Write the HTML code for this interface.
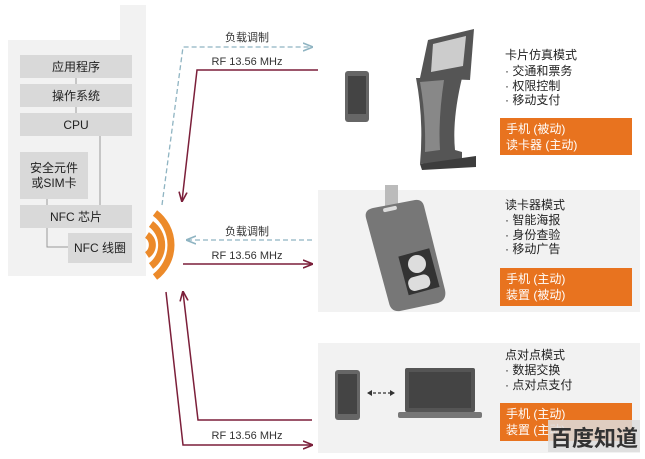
<!DOCTYPE html>
<html><head><meta charset="utf-8"><style>
body{margin:0;background:#fff;width:645px;height:454px;overflow:hidden;font-family:"Liberation Sans","Noto Sans CJK SC",sans-serif}
</style></head><body>
<svg width="645" height="454" xmlns="http://www.w3.org/2000/svg" font-family="Liberation Sans, Noto Sans CJK SC, sans-serif">
<defs>
<marker id="ar" markerWidth="10" markerHeight="10" refX="9" refY="5" orient="auto" markerUnits="userSpaceOnUse"><path d="M0,1 L10,5 L0,9" fill="none" stroke="#7b1f3a" stroke-width="1.6"/></marker>
<marker id="at" markerWidth="10" markerHeight="10" refX="9" refY="5" orient="auto" markerUnits="userSpaceOnUse"><path d="M0,1 L10,5 L0,9" fill="none" stroke="#8fb4c2" stroke-width="1.6"/></marker>
</defs>
<rect x="8" y="40" width="138" height="236" fill="#f2f2f2"/>
<rect x="120" y="5" width="26" height="40" fill="#f2f2f2"/>
<g fill="#d9d9d9">
<rect x="20" y="55" width="112" height="23"/>
<rect x="20" y="84" width="112" height="23"/>
<rect x="20" y="113" width="112" height="23"/>
<rect x="20" y="152" width="68" height="47"/>
<rect x="20" y="205" width="112" height="23"/>
<rect x="68" y="233" width="64" height="30"/>
</g>
<g stroke="#999" stroke-width="1" fill="none">
<path d="M76 78V84M76 107V113M100 136V205M47 199V205M47 228V247H68"/>
</g>
<g font-size="12" fill="#222" text-anchor="middle">
<text x="76" y="71">应用程序</text>
<text x="76" y="100">操作系统</text>
<text x="76" y="129">CPU</text>
<text x="54" y="172">安全元件</text>
<text x="54" y="187">或SIM卡</text>
<text x="76" y="221">NFC 芯片</text>
<text x="100" y="252">NFC 线圈</text>
</g>
<g fill="none" stroke="#ec8a2a" stroke-width="7">
<path d="M147 235 A12 12 0 0 1 147 255"/>
<path d="M151 224 A26 26 0 0 1 151 266"/>
<path d="M155 213 A40 40 0 0 1 155 277"/>
</g>
<rect x="318" y="190" width="322" height="122" fill="#f2f2f2"/>
<rect x="318" y="343" width="322" height="110" fill="#f2f2f2"/>
<path d="M162 205 L183 47 H312" fill="none" stroke="#8fb4c2" stroke-width="1.3" stroke-dasharray="5,3" marker-end="url(#at)"/>
<path d="M318 70 H197 L182 201" fill="none" stroke="#7b1f3a" stroke-width="1.5" marker-end="url(#ar)"/>
<path d="M312 240 H187" fill="none" stroke="#8fb4c2" stroke-width="1.3" stroke-dasharray="5,3" marker-end="url(#at)"/>
<path d="M183 264 H312" fill="none" stroke="#7b1f3a" stroke-width="1.5" marker-end="url(#ar)"/>
<path d="M312 420 H198 L183 292" fill="none" stroke="#7b1f3a" stroke-width="1.5" marker-end="url(#ar)"/>
<path d="M166 292 L183 445 H312" fill="none" stroke="#7b1f3a" stroke-width="1.5" marker-end="url(#ar)"/>
<g font-size="11" fill="#333" text-anchor="middle">
<text x="247" y="41">负载调制</text>
<text x="247" y="65">RF 13.56 MHz</text>
<text x="247" y="235">负载调制</text>
<text x="247" y="259">RF 13.56 MHz</text>
<text x="247" y="439">RF 13.56 MHz</text>
</g>
<rect x="345" y="71" width="24" height="51" rx="3" fill="#666"/><rect x="348" y="76" width="18" height="38" fill="#444"/>
<!-- kiosk -->
<path d="M428 40 L474 29 L470 80 L420 78 Z" fill="#555"/>
<path d="M433 44 L466 36 L463 66 L431 72Z" fill="#ccc"/>
<path d="M416 78 L462 78 Q452 120 455 150 L462 152 L462 160 L420 164 Q424 120 416 78Z" fill="#555"/>
<path d="M420 82 L444 80 Q438 120 440 150 L425 152 Q426 115 420 82Z" fill="#888"/>
<path d="M420 164 L476 156 L476 167 L422 170Z" fill="#3d3d3d"/>
<!-- badge -->
<rect x="385" y="185" width="13" height="32" fill="#bbb"/>
<path d="M373 208 L415 200 Q422 199 424 206 L445 290 Q447 300 438 303 L400 311 Q391 312 389 303 L366 218 Q364 210 373 208Z" fill="#777"/>
<rect x="383" y="207" width="14" height="4" rx="2" fill="#ddd" transform="rotate(-12 390 209)"/>
<rect x="403" y="252" width="32" height="40" fill="#333" transform="rotate(-15 418 272)"/>
<circle cx="417" cy="264" r="9" fill="#ddd"/><rect x="408" y="276" width="22" height="14" rx="6" fill="#ddd" transform="rotate(-15 418 282)"/>
<rect x="335" y="370" width="25" height="50" rx="3" fill="#666"/><rect x="338" y="374" width="19" height="40" fill="#444"/>
<path d="M368 393 H394" stroke="#333" stroke-width="1.2" stroke-dasharray="3,2"/>
<path d="M372 390 L367 393 L372 396ZM390 390 L395 393 L390 396Z" fill="#333"/>
<rect x="405" y="368" width="70" height="44" rx="2" fill="#555"/><rect x="409" y="372" width="62" height="36" fill="#444"/>
<rect x="398" y="412" width="84" height="6" rx="2" fill="#777"/>
<g font-size="12" fill="#222">
<text x="505" y="59">卡片仿真模式</text>
<text x="505" y="75">· 交通和票务</text>
<text x="505" y="90">· 权限控制</text>
<text x="505" y="104">· 移动支付</text>
<text x="505" y="209">读卡器模式</text>
<text x="505" y="224">· 智能海报</text>
<text x="505" y="239">· 身份查验</text>
<text x="505" y="253">· 移动广告</text>
<text x="505" y="359">点对点模式</text>
<text x="505" y="374">· 数据交换</text>
<text x="505" y="389">· 点对点支付</text>
</g>
<g fill="#e8731f">
<rect x="500" y="118" width="132" height="37"/>
<rect x="500" y="268" width="132" height="38"/>
<rect x="500" y="403" width="132" height="38"/>
</g>
<g font-size="12" fill="#fff">
<text x="506" y="133">手机 (被动)</text><text x="506" y="149">读卡器 (主动)</text>
<text x="506" y="283">手机 (主动)</text><text x="506" y="299">装置 (被动)</text>
<text x="506" y="418">手机 (主动)</text><text x="506" y="434">装置 (主动)</text>
</g>
<rect x="548" y="420" width="92" height="32" fill="#ddd" opacity="0.85"/>
<text x="594" y="446" font-size="22" fill="#333" text-anchor="middle" font-weight="bold">百度知道</text>
</svg>
</body></html>
